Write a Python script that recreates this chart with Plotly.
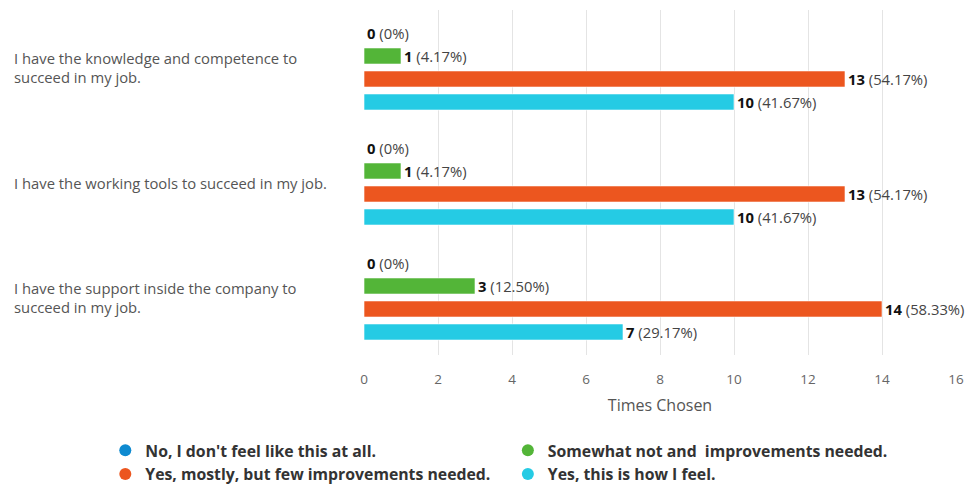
import plotly.graph_objects as go

# Survey statements (y categories)
statements = [
    "I have the knowledge and competence to<br>succeed in my job.",
    "I have the working tools to succeed in my job.",
    "I have the support inside the company to<br>succeed in my job.",
]

# Answer options and their colours
answers = [
    "No, I don't feel like this at all.",
    "Somewhat not and  improvements needed.",
    "Yes, mostly, but few improvements needed.",
    "Yes, this is how I feel.",
]
colors = ["#0e8ad0", "#53b538", "#ec561f", "#25cbe4"]
# Legend column for each answer (two columns below the chart)
legend_ids = ["legend", "legend2", "legend", "legend2"]

# Counts per answer, one value per statement
counts = [
    [0, 0, 0],
    [1, 1, 3],
    [13, 13, 14],
    [10, 10, 7],
]
percents = [
    ["0%", "0%", "0%"],
    ["4.17%", "4.17%", "12.50%"],
    ["54.17%", "54.17%", "58.33%"],
    ["41.67%", "41.67%", "29.17%"],
]

x_ticks = [0, 2, 4, 6, 8, 10, 12, 14, 16]

FONT = "Open Sans"

fig = go.Figure()
for name, col, vals, pcts in zip(answers, colors, counts, percents):
    fig.add_trace(go.Bar(
        y=list(range(len(statements))),
        x=vals,
        orientation="h",
        name=name,
        marker=dict(color=col, line=dict(color="rgba(255,255,255,0.6)", width=1)),
        text=[f"<b>{v}</b> <span style='color:#444'>({p})</span>" for v, p in zip(vals, pcts)],
        textposition="outside",
        constraintext="none",
        textfont=dict(family=FONT, size=14.8, color="#111"),
        cliponaxis=False,
        showlegend=False,
        hoverinfo="skip",
    ))

# Circle markers for the legend
for name, col, lg in zip(answers, colors, legend_ids):
    fig.add_trace(go.Scatter(
        x=[None], y=[None], mode="markers", name=name, legend=lg,
        marker=dict(color=col, size=16, symbol="circle"),
    ))

# Left-aligned statement labels
for i, s in enumerate(statements):
    fig.add_annotation(
        x=-0.594, xref="paper", xanchor="left",
        y=i, yref="y", yanchor="middle",
        text=s, align="left", showarrow=False,
        font=dict(family=FONT, size=14.8, color="#555"),
    )

legend_style = dict(
    orientation="v", xanchor="left",
    yref="container", xref="paper", y=0.106, yanchor="top",
    font=dict(family=FONT, size=15.8, color="#333", weight="bold"),
    itemsizing="constant", tracegroupgap=0, bgcolor="rgba(0,0,0,0)",
)

fig.update_layout(
    width=974, height=485,
    margin=dict(l=364, r=13, t=10, b=130),
    paper_bgcolor="white", plot_bgcolor="white",
    barmode="group", bargap=0.2, bargroupgap=0.3,
    font=dict(family=FONT, color="#555"),
    legend=dict(x=-0.437, **legend_style),
    legend2=dict(x=0.243, **legend_style),
    xaxis=dict(
        range=[0, 16], tickvals=x_ticks, showgrid=True, gridcolor="#e4e4e4",
        zeroline=False, showline=False,
        ticks="outside", ticklen=12, tickcolor="rgba(0,0,0,0)",
        tickfont=dict(family=FONT, size=13.5, color="#666"),
        title=dict(text="Times Chosen", font=dict(family=FONT, size=16, color="#555"), standoff=12),
    ),
    yaxis=dict(
        range=[2.5, -0.5], showticklabels=False, showgrid=False, zeroline=False,
    ),
)

fig.write_html("out.html")
